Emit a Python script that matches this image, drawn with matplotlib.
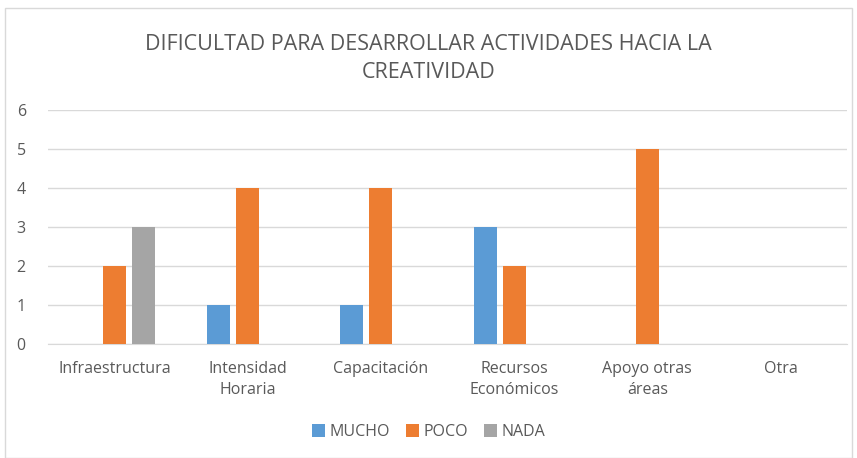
import matplotlib
matplotlib.use("Agg")
import matplotlib.pyplot as plt
import numpy as np
from matplotlib.patches import Rectangle

categories = ["Infraestructura", "Intensidad\nHoraria", "Capacitación",
              "Recursos\nEconómicos", "Apoyo otras\náreas", "Otra"]
mucho = [0, 1, 1, 3, 0, 0]
poco = [2, 4, 4, 2, 5, 0]
nada = [3, 0, 0, 0, 0, 0]
series = [("MUCHO", mucho, "#5b9bd5"), ("POCO", poco, "#ed7d31"), ("NADA", nada, "#a5a5a5")]

plt.rcParams['font.family'] = ['Open Sans', 'DejaVu Sans']
txt = "#595959"

fig = plt.figure(figsize=(8.57, 4.58), dpi=100)
fig.patches.append(Rectangle((5/857, 0), 1 - 10/857, 1 - 8/458, transform=fig.transFigure,
                             fill=False, edgecolor="#d9d9d9", linewidth=1))
ax = fig.add_axes([48/857, 114/458, 799/857, 234/458])

x = np.arange(len(categories))
width = 0.173
step = 0.218
for i, (name, vals, color) in enumerate(series):
    ax.bar(x + (i - 1) * step, vals, width, color=color, label=name, zorder=3)

ax.set_xlim(-0.5, len(categories) - 0.5)
ax.set_ylim(0, 6)
ax.set_yticks(range(0, 7))
ax.grid(axis="y", color="#d9d9d9", linewidth=1, zorder=0)
ax.set_xticks(x)
ax.set_xticklabels(categories, fontsize=11.5, color=txt, linespacing=1.45)
ax.tick_params(axis="y", labelsize=11.5, labelcolor=txt, length=0, pad=16)
ax.tick_params(axis="x", length=0, pad=12)
for s in ["top", "right", "left"]:
    ax.spines[s].set_visible(False)
ax.spines["bottom"].set_color("#d9d9d9")

fig.text(0.5, 1 - 45/458, "DIFICULTAD PARA DESARROLLAR ACTIVIDADES HACIA LA", ha="center",
         va="center", fontsize=15.5, color=txt)
fig.text(0.5, 1 - 72/458, "CREATIVIDAD", ha="center", va="center", fontsize=15.5, color=txt)

fig.legend(loc="center", bbox_to_anchor=(0.5, 1 - 432/458), ncol=3, frameon=False,
           fontsize=11.5, labelcolor=txt, handlelength=0.8, handleheight=0.8,
           handletextpad=0.3, columnspacing=1.0)

plt.savefig("out.png", dpi=100)
